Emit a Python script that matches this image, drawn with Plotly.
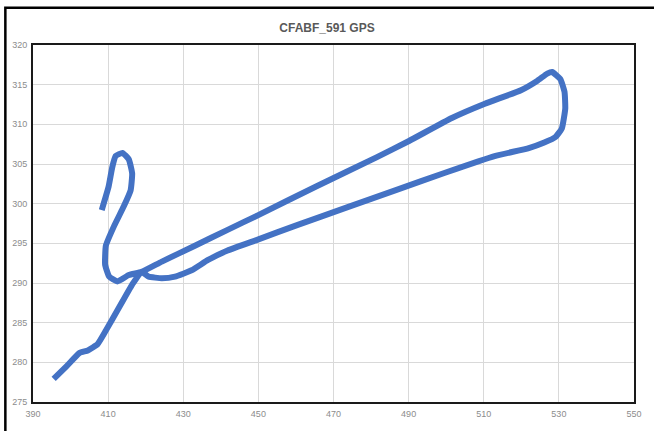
import plotly.graph_objects as go

# GPS track: longitude-like (x) and latitude-like (y) positions
track_x = [395.5, 398.9, 402.4, 404.6, 407.2, 409.4, 412.9, 416.4, 418.9,
           420.8, 424.3, 427.8, 432.2, 436.6, 441.8, 450.0, 460.3, 473.4,
           486.6, 499.7, 512.9, 522.0, 526.1, 529.1, 530.8, 531.7, 531.5,
           530.4, 528.2, 526.9, 524.3, 519.9, 510.3, 501.5, 490.1, 481.3,
           465.5, 449.7, 441.8, 433.1, 424.3, 418.9, 415.5, 412.5, 410.3,
           409.2, 409.4, 411.6, 414.2, 416.0, 416.4, 415.5, 413.8, 412.0,
           411.1, 410.1, 408.3]
track_y = [277.9, 279.5, 281.2, 281.5, 282.3, 284.0, 286.9, 289.8, 291.4,
           290.8, 290.6, 290.8, 291.6, 292.9, 294.1, 295.5, 297.3, 299.5,
           301.7, 303.9, 306.0, 307.0, 307.7, 308.4, 309.5, 312.0, 314.1,
           315.7, 316.6, 316.4, 315.5, 314.3, 312.6, 310.8, 307.9, 305.8,
           302.2, 298.5, 296.7, 294.7, 292.7, 291.4, 291.0, 290.2, 290.8,
           292.3, 294.7, 297.2, 299.7, 301.7, 303.8, 305.6, 306.4, 306.0,
           304.6, 302.1, 299.2]

chart_title = "CFABF_591 GPS"
x_range = [390, 550]
y_range = [275, 320]

fig = go.Figure()
fig.add_trace(go.Scatter(
    x=track_x, y=track_y, mode="lines",
    line=dict(color="#4472C4", width=6, shape="spline", smoothing=0.4),
    hoverinfo="x+y", showlegend=False,
))

axis_common = dict(
    showgrid=True, gridcolor="#d9d9d9", gridwidth=1,
    showline=True, linecolor="#1a1a1a", linewidth=2, mirror=True,
    zeroline=False, ticks="",
    tickfont=dict(family="Liberation Sans Narrow, Liberation Sans, Arial", size=9, color="#8c8c8c"),
)

fig.update_layout(
    width=654, height=431,
    margin=dict(l=33, r=14, t=45, b=22),
    paper_bgcolor="white", plot_bgcolor="white",
    title=dict(text="<b>" + chart_title + "</b>", x=0.5, xanchor="center",
               y=0.935, yanchor="middle",
               font=dict(family="Liberation Sans Narrow, Liberation Sans, Arial", size=12, color="#595959")),
    xaxis=dict(range=x_range, dtick=20, tick0=390, ticklabelstandoff=2, **axis_common),
    yaxis=dict(range=y_range, dtick=5, tick0=275, ticklabelstandoff=2, **axis_common),
    shapes=[
        # outer chart frame (left and top edges)
        dict(type="path", xref="paper", yref="paper",
             path="M -0.046,-0.3 L -0.046,1.104 L 1.1,1.104",
             line=dict(color="black", width=2.5)),
    ],
)

fig.write_html("out.html")
